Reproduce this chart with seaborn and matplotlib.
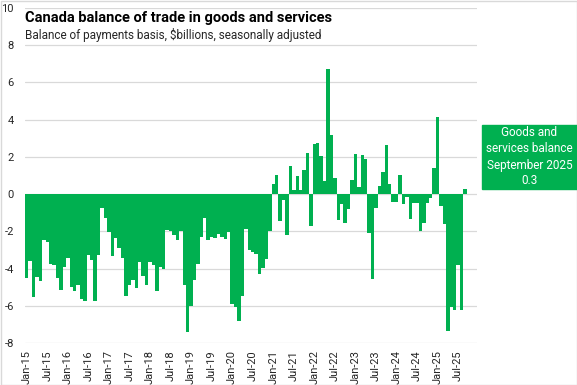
import matplotlib
matplotlib.use("Agg")
import matplotlib.pyplot as plt
import pandas as pd
import seaborn as sns
from matplotlib.patches import Rectangle

# monthly balance, Jan-2015 .. Sep-2025 ($ billions)
months = pd.date_range("2015-01-01", "2025-09-01", freq="MS")
balance = [
    -4.5, -3.57, -5.52, -4.48, -4.68, -2.49, -2.6, -3.75, -3.83, -4.5, -5.16, -3.9,
    -3.42, -5.0, -5.2, -4.86, -5.62, -5.74, -3.25, -3.56, -5.75, -3.26, -0.75, -1.27,
    -2.05, -3.33, -2.35, -2.88, -3.45, -5.48, -4.86, -4.6, -5.05, -3.65, -4.4, -4.9,
    -3.63, -3.83, -5.18, -3.94, -4.02, -1.92, -1.97, -2.2, -2.45, -1.97, -4.86, -7.42,
    -6.03, -4.63, -3.74, -2.3, -1.28, -2.48, -2.33, -2.38, -2.12, -2.3, -2.4, -2.05,
    -5.9, -6.05, -6.8, -5.45, -1.88, -3.0, -3.1, -3.2, -4.27, -3.95, -3.48, -2.0,
    0.56, 1.0, -1.47, -0.3, -2.2, 1.52, 0.22, 0.96, 0.22, 1.3, 2.22, -1.73,
    2.7, 2.75, 2.06, 0.68, 6.7, 3.2, 0.85, -1.37, -0.52, -1.55, -0.82, 0.77,
    2.16, 0.38, 2.1, 1.88, -2.1, -4.56, -0.75, 0.45, 1.18, 2.66, 0.55, -0.45,
    -0.45, 1.04, -0.55, -0.13, -1.34, -0.48, -0.5, -1.96, -1.56, -0.48, -0.2, 1.42,
    4.15, -0.64, -1.62, -7.37, -6.05, -6.2, -3.8, -6.25, 0.3,
]
month_labels = [d.strftime("%b-%y") for d in months]
yticks = [-8, -6, -4, -2, 0, 2, 4, 6, 8, 10]

title = "Canada balance of trade in goods and services"
subtitle = "Balance of payments basis, \\$billions, seasonally adjusted"
callout = "Goods and\nservices balance\nSeptember 2025\n0.3"

green = "#00b050"
txt = "#262626"

sns.set_theme(style="white")
plt.rcParams['font.family'] = ['Roboto', 'DejaVu Sans']

W, H = 577, 385
fig = plt.figure(figsize=(W / 100, H / 100), dpi=100)
ax = fig.add_axes([25 / W, 1 - 343 / H, 452 / W, 335 / H])

df = pd.DataFrame({"month": month_labels, "balance": balance})
sns.barplot(data=df, x="month", y="balance", color=green, saturation=1,
            width=1.0, linewidth=0, ax=ax)

# axis runs to Dec-25, last three months empty
ax.set_xlim(-0.5, len(balance) + 2.5)
ax.set_ylim(-8, 10)
ax.set_yticks(yticks)
ax.set_yticklabels([str(v) for v in yticks], fontsize=8, color=txt)
ticks = list(range(0, len(balance), 6))
ax.set_xticks(ticks)
ax.set_xticklabels([month_labels[i] for i in ticks], rotation=90, fontsize=8, color=txt)
ax.tick_params(axis="both", length=0)
ax.tick_params(axis="y", pad=8)
ax.tick_params(axis="x", pad=5)
ax.set_xlabel("")
ax.set_ylabel("")
ax.yaxis.grid(True, color="#d9d9d9", linewidth=0.9)
ax.set_axisbelow(True)
for s in ax.spines.values():
    s.set_visible(False)

fig.text(25 / W, 1 - 18 / H, title, fontsize=10.5, fontweight="bold",
         color="black", va="center", ha="left")
fig.text(25 / W, 1 - 35 / H, subtitle, fontsize=8.5, color=txt,
         va="center", ha="left")

# callout box on the right
fig.patches.append(Rectangle((482 / W, 1 - 189 / H), 95 / W, 64 / H,
                             transform=fig.transFigure, color=green, zorder=5))
fig.text(529.5 / W, 1 - 157 / H, callout, fontsize=8.5, color="white",
         ha="center", va="center", linespacing=1.3, zorder=6)

# chart border
fig.patches.append(Rectangle((0.5 / W, 0.5 / H), (W - 1) / W, (H - 1) / H,
                             transform=fig.transFigure, fill=False,
                             edgecolor="#d9d9d9", linewidth=1))

fig.savefig("out.png", dpi=100)
